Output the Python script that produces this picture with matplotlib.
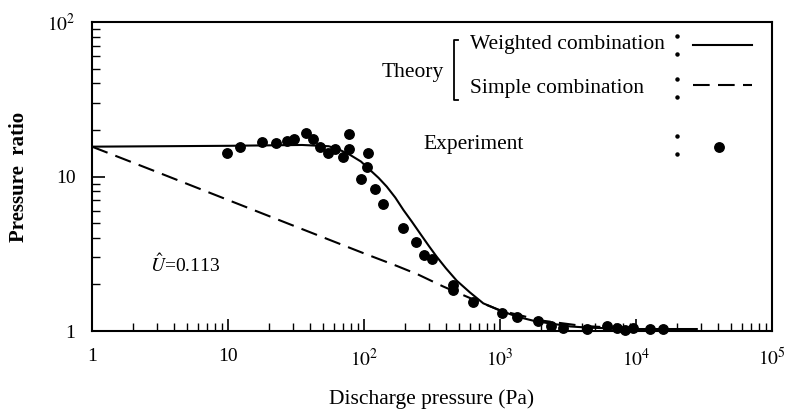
import numpy as np
import matplotlib
matplotlib.use("Agg")
import matplotlib.pyplot as plt
from matplotlib.lines import Line2D

plt.rcParams['font.family'] = ['Liberation Serif', 'DejaVu Serif']
plt.rcParams['mathtext.fontset'] = 'stix'

# experiment (discharge pressure Pa, pressure ratio)
exp_x = [9.8, 12.3, 17.7, 22.5, 27.3, 30.6, 37.5, 42.4, 47.5, 54.1, 61.2, 69.7, 78, 78,
         95, 104.7, 107.6, 120.5, 138.7, 194.5, 241, 276, 315, 454, 454, 637,
         1028, 1327, 1914, 2357, 2922, 4339, 6085, 7210, 8300, 9550, 12680, 15700]
exp_y = [14.1, 15.6, 16.6, 16.4, 17.0, 17.4, 19.0, 17.4, 15.6, 14.3, 15.0, 13.4, 15.0, 18.8,
         9.6, 11.6, 14.1, 8.3, 6.6, 4.66, 3.78, 3.10, 2.92, 1.99, 1.84, 1.55,
         1.30, 1.23, 1.16, 1.07, 1.04, 1.03, 1.07, 1.04, 1.01, 1.04, 1.03, 1.03]

# theory, weighted combination
wc_x = [1, 10, 35, 55, 65, 79, 95, 111, 128, 147, 170, 195, 225, 258, 300, 342, 400, 480, 600, 754, 1000, 1327, 1800, 2333, 3300, 4590, 10000, 28000]
wc_y = [15.6, 15.8, 16.0, 15.7, 15.0, 13.8, 12.5, 11.0, 9.8, 8.6, 7.3, 6.07, 5.1, 4.29, 3.55, 3.03, 2.55, 2.12, 1.78, 1.51, 1.36, 1.24, 1.16, 1.12, 1.07, 1.05, 1.03, 1.03]

# theory, simple combination
sc_x = [1, 3, 10, 30, 100, 174, 250, 383, 637, 1000, 2000, 4000, 10000, 25000]
sc_y = [15.6, 10.7, 7.05, 4.82, 3.18, 2.64, 2.32, 1.94, 1.60, 1.36, 1.17, 1.08, 1.03, 1.02]

fig = plt.figure(figsize=(7.96, 4.19), dpi=100)
ax = fig.add_axes([0.1156, 0.210, 0.8542, 0.7375])
ax.set_xscale('log')
ax.set_yscale('log')
ax.set_xlim(1, 1e5)
ax.set_ylim(1, 100)

ax.plot(wc_x, wc_y, color='black', lw=1.5)
ax.plot(sc_x, sc_y, color='black', lw=1.5, dashes=(8, 4))
ax.plot(exp_x, exp_y, 'o', color='black', ms=6.8, clip_on=False)

ax.set_xticks([1, 10, 100, 1e3, 1e4, 1e5])
ax.set_xticklabels(['1', '10', r'$10^2$', r'$10^3$', r'$10^4$', r'$10^5$'])
ax.set_yticks([1, 10, 100])
ax.set_yticklabels(['1', '10', r'$10^2$'])
ax.tick_params(which='both', direction='in', top=False, right=False, labelsize=14)
ax.tick_params(which='major', length=9, width=1.2, pad=12)
ax.tick_params(which='minor', length=6, width=1.0)
for s in ax.spines.values():
    s.set_linewidth(1.5)

ax.set_xlabel('Discharge pressure (Pa)', fontsize=15.5, labelpad=14)
ax.set_ylabel('Pressure  ratio', fontsize=15, fontweight='bold')
ax.yaxis.set_label_coords(-0.093, 0.5)

ax.text(0.085, 0.19, r'$\hat{U}$=0.113', transform=ax.transAxes, fontsize=14)

# legend drawn by hand
fs = 15.5
ax.text(0.426, 0.835, 'Theory', transform=ax.transAxes, fontsize=fs, va='center')
ax.text(0.556, 0.926, 'Weighted combination', transform=ax.transAxes, fontsize=fs, va='center')
ax.text(0.556, 0.786, 'Simple combination', transform=ax.transAxes, fontsize=fs, va='center')
ax.text(0.487, 0.602, 'Experiment', transform=ax.transAxes, fontsize=fs, va='center')
ax.plot([0.538, 0.532, 0.532, 0.538], [0.942, 0.942, 0.748, 0.748], color='black', lw=1.3, transform=ax.transAxes)
for yy in [0.926, 0.786, 0.602]:
    ax.plot([0.860, 0.860], [yy + 0.03, yy - 0.03], 'o', color='black', ms=2.2, transform=ax.transAxes)
ax.add_line(Line2D([0.884, 0.97], [0.926, 0.926], color='black', lw=1.5, transform=ax.transAxes))
ax.add_line(Line2D([0.884, 0.97], [0.796, 0.796], color='black', lw=1.5, dashes=(8, 4), transform=ax.transAxes))
ax.plot([0.922], [0.595], 'o', color='black', ms=6.8, transform=ax.transAxes)

fig.savefig('out.png', dpi=100)
